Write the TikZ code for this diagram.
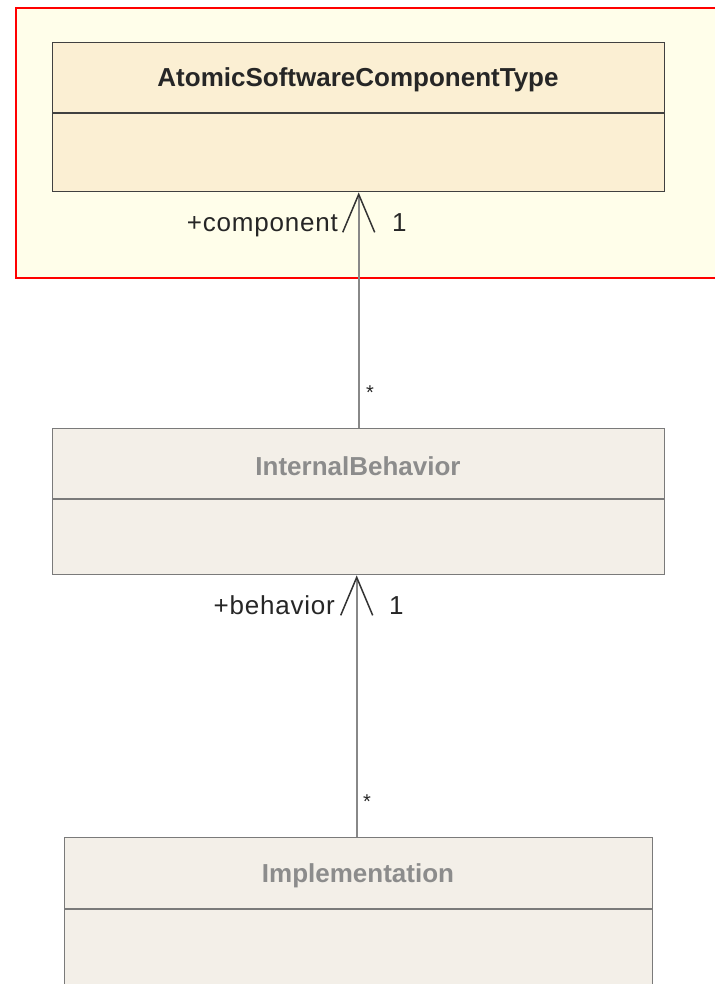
\documentclass[tikz,border=0pt]{standalone}
\usepackage{fontspec}
\setmainfont{Liberation Sans}
\newfontfamily\labelfont[LetterSpace=3]{Liberation Sans}
\usetikzlibrary{arrows.meta}

\definecolor{frameFill}{HTML}{FFFEEA}
\definecolor{typeFill}{HTML}{FBEFD3}
\definecolor{greyFill}{HTML}{F3EFE8}
\definecolor{typeEdge}{HTML}{404040}
\definecolor{greyEdge}{HTML}{7A7A7A}
\definecolor{greyText}{HTML}{8C8C8C}
\definecolor{linkLine}{HTML}{888888}

\tikzset{
  classbox/.style={draw=typeEdge, fill=typeFill, line width=1.4pt, inner sep=0pt, anchor=north west},
  greybox/.style={draw=greyEdge, fill=greyFill, line width=1.4pt, inner sep=0pt, anchor=north west},
  classname/.style={font=\fontsize{26}{30}\selectfont\bfseries, text=black!85, inner sep=0pt},
  greyname/.style={font=\fontsize{26}{30}\selectfont\bfseries, text=greyText, inner sep=0pt},
  rolelabel/.style={font=\labelfont\fontsize{26}{30}\selectfont, text=black!85, inner sep=0pt},
  starlabel/.style={font=\fontsize{20}{24}\selectfont, text=black!85, inner sep=0pt},
  assoc/.style={draw=linkLine, line width=2pt,
    -{Straight Barb[length=38pt,width=32pt,line width=1.5pt,color=black!80]}},
}

\begin{document}
\begin{tikzpicture}[x=1pt,y=-1pt]
\useasboundingbox (0,0) rectangle (714,984);
\fill[white] (0,0) rectangle (714,984);

% package frame around the component type
\draw[red, line width=2pt, fill=frameFill] (16,8) rectangle (740,278);

% AtomicSoftwareComponentType
\node[classbox, minimum width=612pt, minimum height=149pt] (asc) at (52,42) {};
\draw[typeEdge, line width=1.4pt] (52,113) -- (664,113);
\node[classname] (ascName) at (358,80) {AtomicSoftwareComponentType};

% InternalBehavior
\node[greybox, minimum width=612pt, minimum height=146pt] (ib) at (52,428) {};
\draw[greyEdge, line width=1.4pt] (52,499) -- (664,499);
\node[greyname] (ibName) at (358,466) {InternalBehavior};

% Implementation
\node[greybox, minimum width=588pt, minimum height=200pt] (impl) at (64,837) {};
\draw[greyEdge, line width=1.4pt] (64,909) -- (652,909);
\node[greyname] (implName) at (358,876) {Implementation};

% associations
\draw[assoc] (ib.north) -- (asc.south);
\draw[assoc] ([xshift=-2pt]impl.north) -- ([xshift=-2pt]ib.south);

% association end labels
\node[rolelabel, anchor=base east] (roleComp) at (338,232) {+component};
\node[rolelabel, anchor=base west] (multComp) at (392,232) {1};
\node[starlabel, anchor=base west] (starComp) at (366,399) {*};

\node[rolelabel, anchor=base east] (roleBeh) at (335,614) {+behavior};
\node[rolelabel, anchor=base west] (multBeh) at (389,614) {1};
\node[starlabel, anchor=base west] (starBeh) at (363,808) {*};
\end{tikzpicture}
\end{document}
